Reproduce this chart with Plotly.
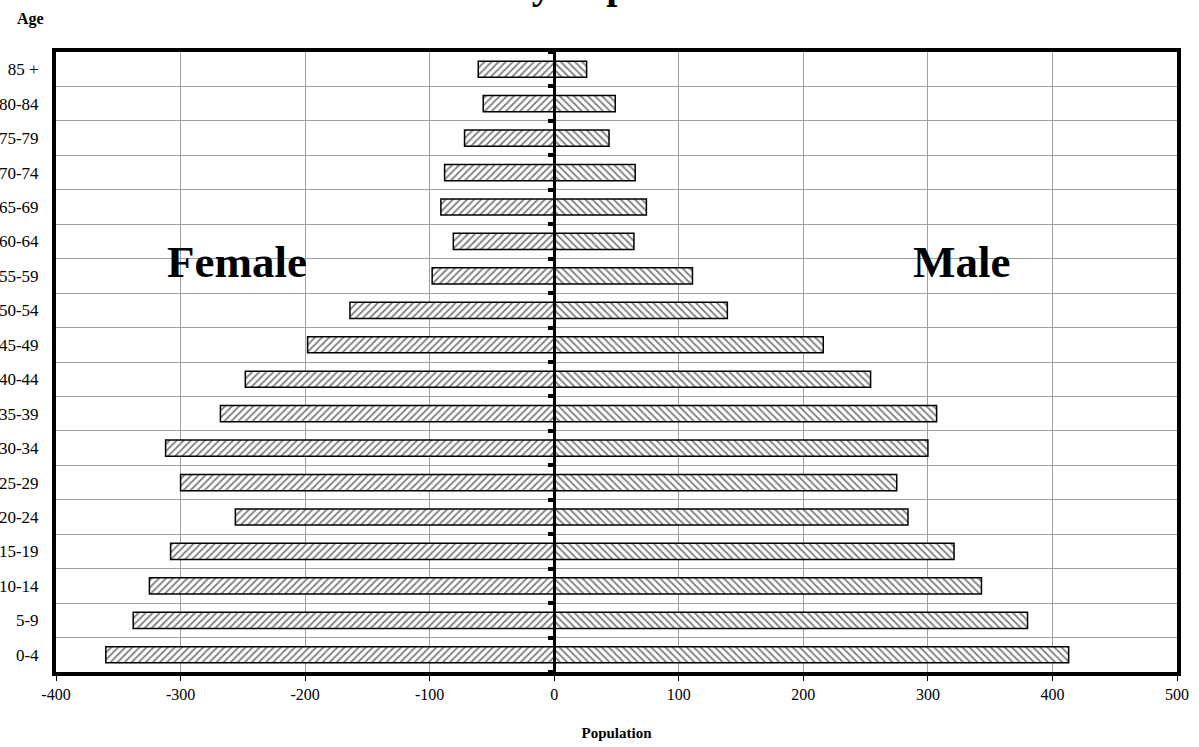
import plotly.graph_objects as go

ages = ["0-4", "5-9", "10-14", "15-19", "20-24", "25-29", "30-34", "35-39", "40-44",
        "45-49", "50-54", "55-59", "60-64", "65-69", "70-74", "75-79", "80-84", "85 +"]
female = [-360, -338, -325, -308, -256, -300, -312, -268, -248,
          -198, -164, -98, -81, -91, -88, -72, -57, -61]
male = [413, 380, 343, 321, 284, 275, 300, 307, 254,
        216, 139, 111, 64, 74, 65, 44, 49, 26]
x_ticks = [-400, -300, -200, -100, 0, 100, 200, 300, 400, 500]

FONT = "Palatino Linotype, Book Antiqua, Palatino, Liberation Serif, serif"
pos = list(range(len(ages)))
bounds = [i + 0.5 for i in range(-1, len(ages))]

fig = go.Figure()
fig.add_trace(go.Bar(
    y=pos, x=female, orientation="h", name="Female", width=0.47,
    marker=dict(color="white", line=dict(color="black", width=1.5),
                pattern=dict(shape="/", fgcolor="black", bgcolor="white", size=5, solidity=0.35)),
))
fig.add_trace(go.Bar(
    y=pos, x=male, orientation="h", name="Male", width=0.47,
    marker=dict(color="white", line=dict(color="black", width=1.5),
                pattern=dict(shape="\\", fgcolor="black", bgcolor="white", size=5, solidity=0.35)),
))

fig.update_layout(
    width=1199, height=747,
    margin=dict(l=56, r=22, t=52, b=75, autoexpand=False),
    paper_bgcolor="white", plot_bgcolor="white",
    barmode="overlay", showlegend=False,
    font=dict(family=FONT, color="black", size=16),
    xaxis=dict(
        range=[-400, 500], tickvals=x_ticks, ticktext=[str(v) for v in x_ticks],
        showgrid=True, gridcolor="#a0a0a0", gridwidth=1, zeroline=False,
        showline=True, linecolor="black", linewidth=4, mirror=True,
        ticks="outside", ticklen=5, tickcolor="black", tickwidth=1,
        tickfont=dict(size=16), automargin=False,
        title=dict(text="<b>Population</b>", font=dict(size=15), standoff=26),
    ),
    yaxis=dict(
        range=[-0.5, len(ages) - 0.5], tickvals=pos, ticktext=ages,
        showgrid=False, zeroline=False,
        showline=True, linecolor="black", linewidth=4, mirror=True,
        ticks="", tickfont=dict(size=17), automargin=False, ticklabelstandoff=10,
    ),
    yaxis2=dict(
        range=[-0.5, len(ages) - 0.5], overlaying="y", anchor="free", position=400 / 900,
        tickvals=bounds, showticklabels=False,
        showgrid=True, gridcolor="#a0a0a0", gridwidth=1, zeroline=False,
        showline=True, linecolor="black", linewidth=3,
        ticks="outside", ticklen=5, tickwidth=4, tickcolor="black", automargin=False,
    ),
)
# invisible helper trace to activate the zero-positioned axis
fig.add_trace(go.Scatter(x=[0], y=[0], yaxis="y2", mode="markers",
                         marker=dict(opacity=0), hoverinfo="skip", showlegend=False))

fig.add_annotation(text="<b>Female</b>", x=-255, y=11.4, xref="x", yref="y",
                   showarrow=False, font=dict(size=45, family=FONT))
fig.add_annotation(text="<b>Male</b>", x=327, y=11.4, xref="x", yref="y",
                   showarrow=False, font=dict(size=45, family=FONT))
fig.add_annotation(text="<b>Age</b>", x=0, y=1, xref="paper", yref="paper",
                   xanchor="right", yanchor="bottom", xshift=-10, yshift=22,
                   showarrow=False, font=dict(size=16, family=FONT))
fig.add_annotation(text="<b>County Population</b>", x=0.5, y=1, xref="paper", yref="paper",
                   xanchor="center", yanchor="bottom", xshift=-30, yshift=43,
                   showarrow=False, font=dict(size=40, family=FONT))

fig.write_html("out.html")
